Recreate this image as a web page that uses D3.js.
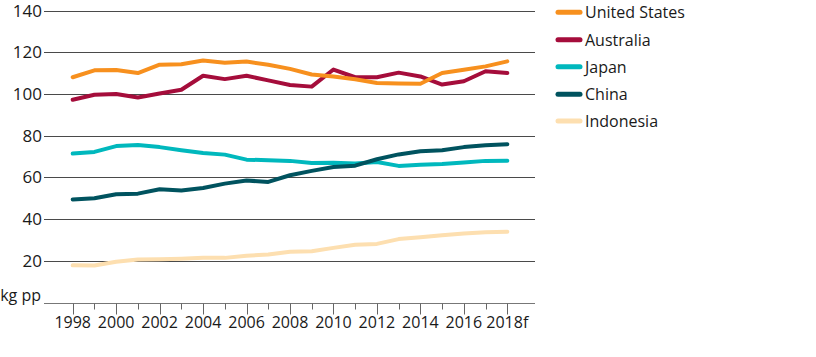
<!DOCTYPE html>
<html><head><meta charset="utf-8">
<script src="https://cdn.jsdelivr.net/npm/d3@7"></script>
<style>body{margin:0;background:#fff}svg{display:block}text{font-family:"Open Sans",sans-serif;fill:#1a1a1a}</style>
</head><body><svg id="c" width="816" height="357"></svg>
<script>
const years = d3.range(1998, 2019);
const yearLabels = ["1998","2000","2002","2004","2006","2008","2010","2012","2014","2016","2018f"];
const yTicks = [20,40,60,80,100,120,140];
const seriesNames = ["United States","Australia","Japan","China","Indonesia"];
const seriesColors = ["#f7901e","#a50d3b","#00b8bd","#00535f","#fddfb0"];
const unitedStates = [108,111.3,111.5,110,114,114.2,116,115,115.5,114,112,109.3,108.4,107,105.2,105,104.9,110,111.6,113.2,115.6];
const australia = [97.2,99.6,100,98.3,100.2,102,108.7,107.1,108.7,106.5,104.3,103.5,111.7,108,108,110.2,108.4,104.5,106.1,110.9,110];
const japan = [71.4,72.2,75,75.5,74.5,73,71.7,70.9,68.5,68.2,67.9,66.9,67,66.6,67.4,65.5,66.1,66.4,67.1,67.9,68];
const china = [49.4,50,51.9,52.2,54.3,53.7,54.9,57,58.5,57.8,61,63.1,65,65.6,68.7,71,72.5,73,74.5,75.4,75.9];
const indonesia = [17.8,17.7,19.5,20.6,20.7,21,21.4,21.4,22.4,23,24.3,24.6,26.2,27.7,28.1,30.4,31.3,32.2,33.1,33.7,33.9];
const seriesValues = [unitedStates, australia, japan, china, indonesia];
const drawOrder = [4, 2, 3, 1, 0];

const svg = d3.select("#c");
const x = d3.scaleLinear().domain([1998, 2018]).range([72.7, 507.3]);
const y = d3.scaleLinear().domain([0, 140]).range([302.5, 10.5]);
const gx0 = 44, gx1 = 535;

// gridlines
svg.append("g").selectAll("line").data(yTicks).join("line")
  .attr("x1", gx0).attr("x2", gx1)
  .attr("y1", d => Math.round(y(d)) + 0.5).attr("y2", d => Math.round(y(d)) + 0.5)
  .attr("stroke", "#4a4a4a").attr("stroke-width", 1);
svg.append("g").selectAll("text").data(yTicks).join("text")
  .attr("x", 42).attr("y", d => Math.round(y(d)) + 6)
  .attr("text-anchor", "end").attr("font-size", 17).text(d => d);

// baseline axis
const by = Math.round(y(0)) + 0.5;
svg.append("line").attr("x1", gx0).attr("x2", gx1).attr("y1", by).attr("y2", by)
  .attr("stroke", "#777").attr("stroke-width", 1);
svg.append("text").attr("x", 41).attr("y", by - 3).attr("text-anchor", "end")
  .attr("font-size", 16).text("kg pp");
svg.append("g").selectAll("line").data(years).join("line")
  .attr("x1", d => Math.round(x(d)) + 0.5).attr("x2", d => Math.round(x(d)) + 0.5)
  .attr("y1", by).attr("y2", d => by + ((d % 2 === 0) ? 11 : 6))
  .attr("stroke", "#666").attr("stroke-width", 1);
svg.append("g").selectAll("text").data(yearLabels).join("text")
  .attr("x", (d, i) => x(1998 + 2 * i)).attr("y", 328)
  .attr("text-anchor", "middle").attr("font-size", 16).text(d => d);

// lines
const line = d3.line().x((d, i) => x(years[i])).y(d => y(d));
drawOrder.forEach(k => {
  svg.append("path").datum(seriesValues[k]).attr("d", line)
    .attr("fill", "none").attr("stroke", seriesColors[k]).attr("stroke-width", 4)
    .attr("stroke-linejoin", "round").attr("stroke-linecap", "round");
});

// legend
const ly = [12.3, 39.7, 66.7, 94.3, 121];
const lg = svg.append("g");
seriesNames.forEach((n, k) => {
  lg.append("line").attr("x1", 558).attr("x2", 580).attr("y1", ly[k]).attr("y2", ly[k])
    .attr("stroke", seriesColors[k]).attr("stroke-width", 5).attr("stroke-linecap", "round");
  lg.append("text").attr("x", 585).attr("y", ly[k] + 6).attr("font-size", 16).text(n);
});
</script></body></html>
